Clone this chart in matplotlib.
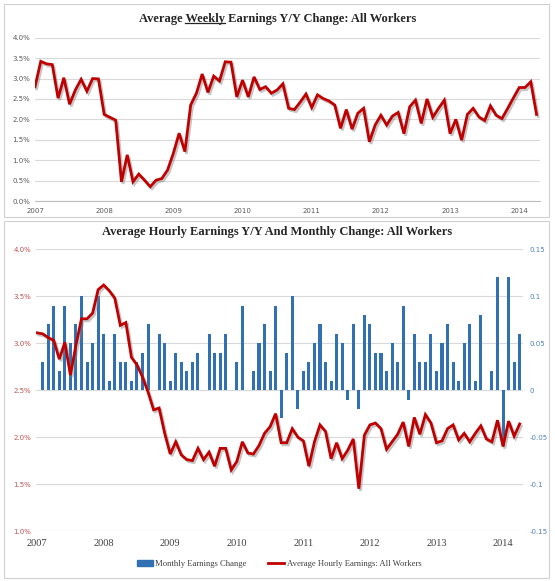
import numpy as np
import matplotlib
matplotlib.use("Agg")
import matplotlib.pyplot as plt
import matplotlib.patheffects as pe
from matplotlib.patches import Rectangle
from matplotlib.lines import Line2D

# ----------------------------- datos (mensual, ene-2007 .. abr-2014) -----------------------------
YEARS = ["2007", "2008", "2009", "2010", "2011", "2012", "2013", "2014"]

weekly_yoy = [2.80, 3.42, 3.36, 3.34, 2.52, 3.02, 2.37, 2.72, 2.98, 2.69, 3.00, 2.99,
              2.12, 2.05, 1.98, 0.47, 1.13, 0.47, 0.66, 0.51, 0.35, 0.51, 0.55, 0.76,
              1.17, 1.66, 1.21, 2.35, 2.64, 3.11, 2.66, 3.06, 2.94, 3.41, 3.40, 2.55,
              2.96, 2.55, 3.04, 2.73, 2.80, 2.64, 2.72, 2.87, 2.27, 2.24, 2.42, 2.62,
              2.29, 2.60, 2.51, 2.45, 2.35, 1.78, 2.24, 1.76, 2.15, 2.27, 1.45, 1.86,
              2.10, 1.86, 2.08, 2.17, 1.65, 2.31, 2.47, 1.90, 2.50, 2.05, 2.27, 2.47,
              1.65, 2.00, 1.49, 2.12, 2.27, 2.06, 1.97, 2.33, 2.10, 2.02, 2.27, 2.53,
              2.78, 2.78, 2.92, 2.12]

hourly_yoy = [3.11, 3.10, 3.06, 3.03, 2.83, 3.01, 2.66, 2.98, 3.26, 3.26, 3.32, 3.57,
              3.62, 3.56, 3.48, 3.19, 3.22, 2.85, 2.77, 2.64, 2.48, 2.29, 2.31, 2.04,
              1.82, 1.95, 1.81, 1.76, 1.75, 1.88, 1.76, 1.84, 1.69, 1.88, 1.88, 1.65,
              1.74, 1.95, 1.83, 1.82, 1.91, 2.04, 2.11, 2.25, 1.94, 1.94, 2.09, 2.00,
              1.96, 1.69, 1.95, 2.13, 2.06, 1.77, 1.94, 1.77, 1.86, 1.98, 1.45, 2.02,
              2.13, 2.15, 2.09, 1.87, 1.95, 2.03, 2.16, 1.90, 2.21, 2.03, 2.24, 2.15,
              1.94, 1.96, 2.09, 2.13, 1.97, 2.04, 1.95, 2.04, 2.12, 1.98, 1.95, 2.18,
              1.90, 2.17, 2.01, 2.14]

# cambio mensual (USD), feb-2007 .. abr-2014
monthly_change = [0.03, 0.07, 0.09, 0.02, 0.09, 0.05, 0.07, 0.10, 0.03, 0.05, 0.10,
                  0.06, 0.01, 0.06, 0.03, 0.03, 0.01, 0.03, 0.04, 0.07, 0.00, 0.06, 0.05,
                  0.01, 0.04, 0.03, 0.02, 0.03, 0.04, 0.00, 0.06, 0.04, 0.04, 0.06, 0.00,
                  0.03, 0.09, 0.00, 0.02, 0.05, 0.07, 0.02, 0.09, -0.03, 0.04, 0.10, -0.02,
                  0.02, 0.03, 0.05, 0.07, 0.03, 0.01, 0.06, 0.05, -0.01, 0.07, -0.02, 0.08,
                  0.07, 0.04, 0.04, 0.02, 0.05, 0.03, 0.09, -0.01, 0.06, 0.03, 0.03, 0.06,
                  0.02, 0.05, 0.07, 0.03, 0.01, 0.05, 0.07, 0.01, 0.08, 0.00, 0.02, 0.12,
                  -0.06, 0.12, 0.03, 0.06]

RED = "#C00000"
BLUE = "#3070B3"
GRID = "#D9D9D9"
SERIF = "Liberation Serif"

W, H = 555, 581
fig = plt.figure(figsize=(W / 100, H / 100), dpi=100)


def px_axes(left, top, right, bottom):
    return fig.add_axes([left / W, 1 - bottom / H, (right - left) / W, (bottom - top) / H])


# marcos de cada grafico
for (x0, y0, x1, y1) in [(4, 4, 549, 217), (4, 221, 549, 578)]:
    fig.patches.append(Rectangle((x0 / W, 1 - y1 / H), (x1 - x0) / W, (y1 - y0) / H,
                                 transform=fig.transFigure, fill=False, ec="#D0D0D0", lw=0.8))

shadow = [pe.SimpleLineShadow(offset=(1.2, -1.5), shadow_color="#808080", alpha=0.45), pe.Normal()]
year_pos = [12 * k for k in range(len(YEARS))]

# ----------------------------- panel superior -----------------------------
ax = px_axes(35, 37.7, 540, 201)
xw = np.arange(len(weekly_yoy))
ax.plot(xw, weekly_yoy, color=RED, lw=2.0, solid_joinstyle="miter", path_effects=shadow, zorder=3)
ax.set_xlim(0, 87.6)
ax.set_ylim(0, 4)
ax.set_yticks(np.arange(0, 4.01, 0.5))
ax.set_yticklabels([f"{v:.1f}%" for v in np.arange(0, 4.01, 0.5)])
ax.set_xticks(year_pos)
ax.set_xticklabels(YEARS)
ax.grid(axis="y", color=GRID, lw=0.8)
ax.set_axisbelow(True)
for s in ["top", "right", "left"]:
    ax.spines[s].set_visible(False)
ax.spines["bottom"].set_color("#BFBFBF")
ax.tick_params(length=0, labelsize=5, labelcolor="#595959")
ax.tick_params(axis="x", pad=5)

# titulo superior con "Weekly" subrayado
t1 = fig.text(0.5, 1 - 19 / H, "Average Weekly Earnings Y/Y Change: All Workers",
              ha="center", va="center", family=SERIF, weight="bold", fontsize=9, color="#262626")
fig.canvas.draw()
r = fig.canvas.get_renderer()
bb = t1.get_window_extent(r)
tmp = fig.text(0, 0, "Average Weekly", family=SERIF, weight="bold", fontsize=9)
w_ab = tmp.get_window_extent(r).width
tmp.set_text("Weekly")
w_b = tmp.get_window_extent(r).width
tmp.remove()
uy = (bb.y0 + 2.2) / H
fig.add_artist(Line2D([(bb.x0 + w_ab - w_b) / W, (bb.x0 + w_ab) / W], [uy, uy],
                      transform=fig.transFigure, color="#262626", lw=0.9))

# ----------------------------- panel inferior -----------------------------
axl = px_axes(36, 249.3, 523, 531)
axr = axl.twinx()
axl.set_zorder(axr.get_zorder() + 1)
axl.patch.set_visible(False)

xb = np.arange(1, len(monthly_change) + 1)
axr.bar(xb, monthly_change, width=0.55, color=BLUE, zorder=2)
axr.set_ylim(-0.15, 0.15)
rticks = [0.15, 0.1, 0.05, 0, -0.05, -0.1, -0.15]
axr.set_yticks(rticks)
axr.set_yticklabels(["0.15", "0.1", "0.05", "0", "-0.05", "-0.1", "-0.15"])
axr.grid(axis="y", color=GRID, lw=0.8, zorder=0)
axr.set_axisbelow(True)

xh = np.arange(len(hourly_yoy))
axl.plot(xh, hourly_yoy, color=RED, lw=2.0, solid_joinstyle="miter", path_effects=shadow, zorder=3)
axl.set_xlim(-0.2, 87.6)
axl.set_ylim(1, 4)
lticks = np.arange(1, 4.01, 0.5)
axl.set_yticks(lticks)
axl.set_yticklabels([f"{v:.1f}%" for v in lticks])
axl.set_xticks(year_pos)
axl.set_xticklabels(YEARS, family=SERIF)

for a in (axl, axr):
    for s in a.spines.values():
        s.set_visible(False)
axl.tick_params(axis="y", length=0, labelsize=5, labelcolor="#C0504D")
axl.tick_params(axis="x", length=0, labelsize=7.5, labelcolor="#404040", pad=6)
axr.tick_params(axis="y", length=0, labelsize=5, labelcolor="#4F81BD", pad=5)

fig.text(0.5, 1 - 231.5 / H, "Average Hourly Earnings Y/Y And Monthly Change: All Workers",
         ha="center", va="center", family=SERIF, weight="bold", fontsize=9, color="#262626")

handles = [Rectangle((0, 0), 1, 0.35, color=BLUE),
           Line2D([], [], color=RED, lw=2.0)]
fig.legend(handles, ["Monthly Earnings Change", "Average Hourly Earnings: All Workers"],
           loc="center", bbox_to_anchor=(279 / W, 1 - 564 / H), ncol=2, frameon=False,
           prop={"family": SERIF, "size": 6.2}, handlelength=1.9, handletextpad=0.25,
           columnspacing=2.5, labelcolor="#404040")

fig.savefig("out.png", dpi=100)
